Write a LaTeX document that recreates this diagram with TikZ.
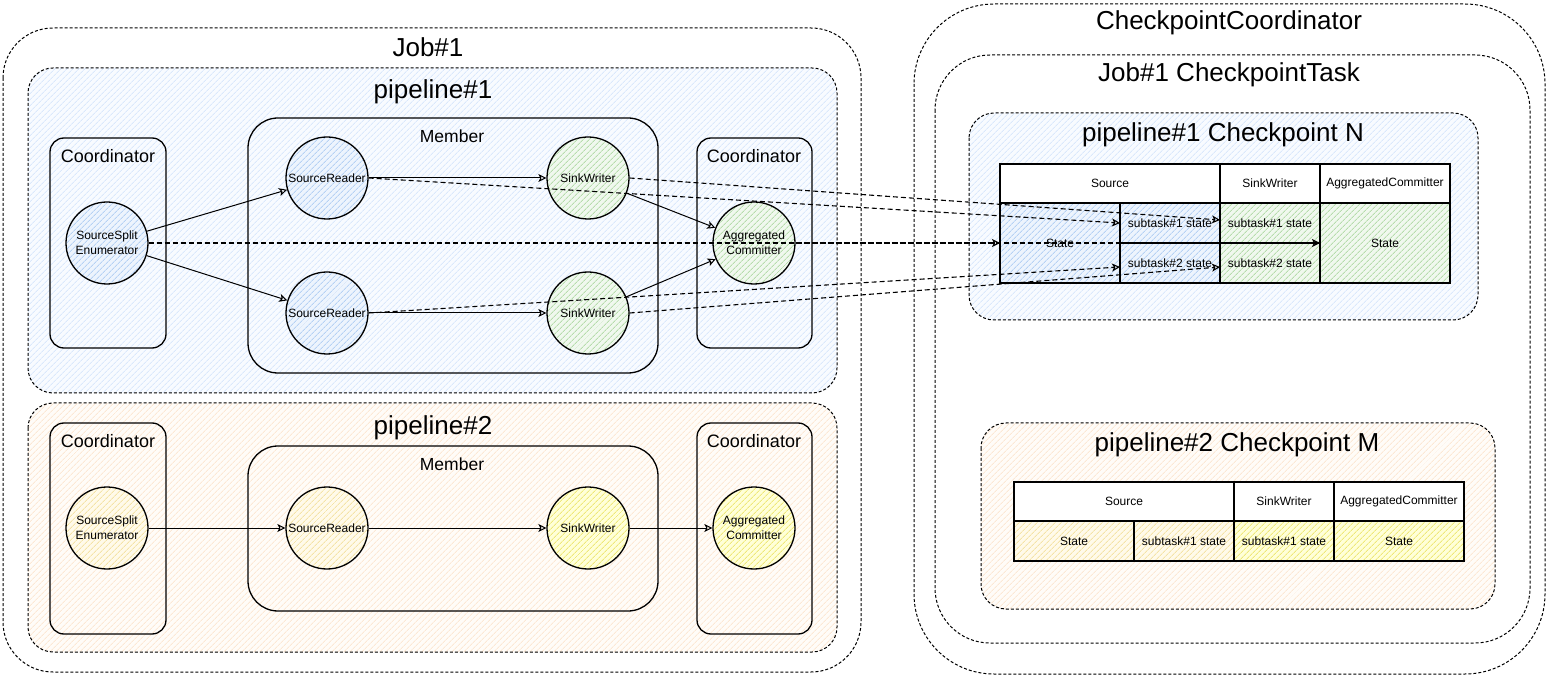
\documentclass[tikz,border=0pt]{standalone}
\usepackage{fontspec}
\setmainfont{Liberation Sans}
\usetikzlibrary{arrows.meta,patterns.meta}

\definecolor{bgBlue}{HTML}{F8FBFF}
\definecolor{bgBlueHatch}{HTML}{DAE8FC}
\definecolor{bgOrange}{HTML}{FFFCF8}
\definecolor{bgOrangeHatch}{HTML}{FCE8D4}
\definecolor{taskBlue}{HTML}{EDF4FD}
\definecolor{taskBlueHatch}{HTML}{B5D1F4}
\definecolor{taskGreen}{HTML}{F0F8EE}
\definecolor{taskGreenHatch}{HTML}{B6DCAC}
\definecolor{taskCream}{HTML}{FFFAEA}
\definecolor{taskCreamHatch}{HTML}{F4E3A6}
\definecolor{taskYellow}{HTML}{FFFFD8}
\definecolor{taskYellowHatch}{HTML}{EEE878}

\tikzset{
	hatched/.style 2 args={preaction={fill=#1}, pattern={Lines[angle=45,distance=4pt,line width=0.9pt]}, pattern color=#2},
	group/.style={draw, dash pattern=on 3pt off 2pt, line width=1pt},
	frame/.style={draw, line width=1.3pt},
	bigtitle/.style={font=\fontsize{26}{30}\selectfont},
	boxtitle/.style={font=\fontsize{18}{21}\selectfont},
	membertitle/.style={font=\fontsize{17.5}{20}\selectfont},
	task/.style={circle, draw, line width=1.3pt, minimum size=82pt, inner sep=0pt, align=center, font=\fontsize{12}{15}\selectfont},
	cell/.style={draw, line width=1.2pt, fill=white, inner sep=0pt, outer sep=0pt, font=\fontsize{12}{14}\selectfont},
	flow/.style={-{Stealth[open,length=8pt,width=8pt,inset=2pt]}, line width=1pt},
	snapshot/.style={flow, dash pattern=on 5pt off 3pt, line width=1.1pt},
}

\begin{document}
\begin{tikzpicture}[x=1pt,y=-1pt]
	%%%%% START %%%%%
	\useasboundingbox (0,0) rectangle (1548,684);

	% job side
	\draw[group, rounded corners=50pt] (3,28) rectangle (861,672);
	\node[bigtitle] (jobtitle) at (428,47) {Job\#1};

	% pipeline 1
	\draw[group, rounded corners=25pt, hatched={bgBlue}{bgBlueHatch}] (28,68) rectangle (837,393);
	\node[bigtitle] (pipeonetitle) at (433,92) {pipeline\#1};
	\draw[frame, rounded corners=14pt] (50,138) rectangle (166,348);
	\node[boxtitle] (coordonesrc) at (108,156) {Coordinator};
	\draw[frame, rounded corners=30pt] (248,118) rectangle (658,373);
	\node[membertitle] (memberone) at (452,136) {Member};
	\draw[frame, rounded corners=14pt] (697,138) rectangle (812,348);
	\node[boxtitle] (coordonesink) at (754,156) {Coordinator};

	\node[task, hatched={taskBlue}{taskBlueHatch}] (enumone) at (107,243) {SourceSplit\\Enumerator};
	\node[task, hatched={taskBlue}{taskBlueHatch}] (readerone) at (327,178) {SourceReader};
	\node[task, hatched={taskBlue}{taskBlueHatch}] (readertwo) at (327,313) {SourceReader};
	\node[task, hatched={taskGreen}{taskGreenHatch}] (writerone) at (588,178) {SinkWriter};
	\node[task, hatched={taskGreen}{taskGreenHatch}] (writertwo) at (588,313) {SinkWriter};
	\node[task, hatched={taskGreen}{taskGreenHatch}] (commitone) at (754,243) {Aggregated\\Committer};

	\draw[flow] (enumone) -- (readerone);
	\draw[flow] (enumone) -- (readertwo);
	\draw[flow] (readerone) -- (writerone);
	\draw[flow] (readertwo) -- (writertwo);
	\draw[flow] (writerone) -- (commitone);
	\draw[flow] (writertwo) -- (commitone);

	% pipeline 2
	\draw[group, rounded corners=25pt, hatched={bgOrange}{bgOrangeHatch}] (28,403) rectangle (837,652);
	\node[bigtitle] (pipetwotitle) at (433,428) {pipeline\#2};
	\draw[frame, rounded corners=14pt] (50,423) rectangle (166,634);
	\node[boxtitle] (coordtwosrc) at (108,441) {Coordinator};
	\draw[frame, rounded corners=30pt] (248,446) rectangle (658,611);
	\node[membertitle] (membertwo) at (452,464) {Member};
	\draw[frame, rounded corners=14pt] (697,423) rectangle (812,634);
	\node[boxtitle] (coordtwosink) at (754,441) {Coordinator};

	\node[task, hatched={taskCream}{taskCreamHatch}] (enumtwo) at (107,528) {SourceSplit\\Enumerator};
	\node[task, hatched={taskCream}{taskCreamHatch}] (readerthree) at (327,528) {SourceReader};
	\node[task, hatched={taskYellow}{taskYellowHatch}] (writerthree) at (588,528) {SinkWriter};
	\node[task, hatched={taskYellow}{taskYellowHatch}] (committwo) at (754,528) {Aggregated\\Committer};

	\draw[flow] (enumtwo) -- (readerthree);
	\draw[flow] (readerthree) -- (writerthree);
	\draw[flow] (writerthree) -- (committwo);

	% checkpoint side
	\draw[group, rounded corners=80pt] (914,4) rectangle (1545,674);
	\node[bigtitle] (coordtitle) at (1229,23) {CheckpointCoordinator};
	\draw[group, rounded corners=55pt] (935,55) rectangle (1530,643);
	\node[bigtitle] (tasktitle) at (1229,75) {Job\#1 CheckpointTask};

	\draw[group, rounded corners=25pt, hatched={bgBlue}{bgBlueHatch}] (969,113) rectangle (1478,320);
	\node[bigtitle] (cpntitle) at (1223,135) {pipeline\#1 Checkpoint N};
	\node[cell, minimum width=220pt, minimum height=39pt] (srchead) at (1110,183.5) {Source};
	\node[cell, minimum width=100pt, minimum height=39pt] (sinkhead) at (1270,183.5) {SinkWriter};
	\node[cell, minimum width=130pt, minimum height=39pt] (commithead) at (1385,183.5) {AggregatedCommitter};
	\node[cell, hatched={taskBlue}{taskBlueHatch}, minimum width=120pt, minimum height=80pt] (srcstate) at (1060,243) {State};
	\node[cell, hatched={taskBlue}{taskBlueHatch}, minimum width=100pt, minimum height=40pt] (srcsubone) at (1170,223) {subtask\#1 state};
	\node[cell, hatched={taskBlue}{taskBlueHatch}, minimum width=100pt, minimum height=40pt] (srcsubtwo) at (1170,263) {subtask\#2 state};
	\node[cell, hatched={taskGreen}{taskGreenHatch}, minimum width=100pt, minimum height=40pt] (sinksubone) at (1270,223) {subtask\#1 state};
	\node[cell, hatched={taskGreen}{taskGreenHatch}, minimum width=100pt, minimum height=40pt] (sinksubtwo) at (1270,263) {subtask\#2 state};
	\node[cell, hatched={taskGreen}{taskGreenHatch}, minimum width=130pt, minimum height=80pt] (commitstate) at (1385,243) {State};

	\draw[group, rounded corners=25pt, hatched={bgOrange}{bgOrangeHatch}] (981,423) rectangle (1495,609);
	\node[bigtitle] (cpmtitle) at (1237,445) {pipeline\#2 Checkpoint M};
	\node[cell, minimum width=220pt, minimum height=39pt] (srcheadtwo) at (1124,501.5) {Source};
	\node[cell, minimum width=100pt, minimum height=39pt] (sinkheadtwo) at (1284,501.5) {SinkWriter};
	\node[cell, minimum width=130pt, minimum height=39pt] (commitheadtwo) at (1399,501.5) {AggregatedCommitter};
	\node[cell, hatched={taskCream}{taskCreamHatch}, minimum width=120pt, minimum height=40pt] (srcstatetwo) at (1074,541) {State};
	\node[cell, hatched={taskCream}{taskCreamHatch}, minimum width=100pt, minimum height=40pt] (srcsubthree) at (1184,541) {subtask\#1 state};
	\node[cell, hatched={taskYellow}{taskYellowHatch}, minimum width=100pt, minimum height=40pt] (sinksubthree) at (1284,541) {subtask\#1 state};
	\node[cell, hatched={taskYellow}{taskYellowHatch}, minimum width=130pt, minimum height=40pt] (commitstatetwo) at (1399,541) {State};

	% snapshots of pipeline 1
	\draw[snapshot] (enumone.east) -- (srcstate.west);
	\draw[snapshot] (readerone.east) -- (srcsubone.west);
	\draw[snapshot] (readertwo.east) -- ([yshift=-4pt]srcsubtwo.west);
	\draw[snapshot] (writerone.east) -- ([yshift=3pt]sinksubone.west);
	\draw[snapshot] (writertwo.east) -- ([yshift=-4pt]sinksubtwo.west);
	\draw[snapshot] (commitone.east) -- (commitstate.west);

	%%%%% END %%%%%
\end{tikzpicture}
\end{document}
